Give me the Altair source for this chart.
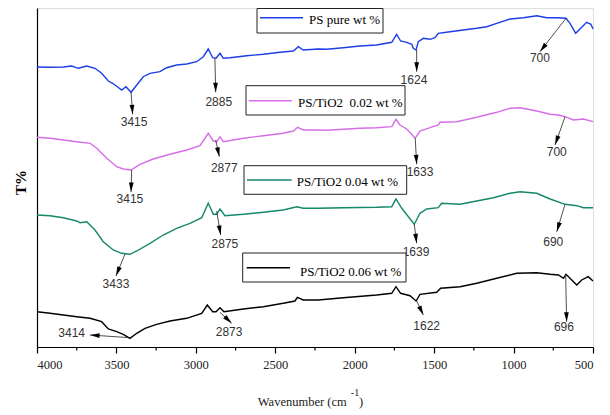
import math
import altair as alt
import pandas as pd

# ---------------- data ----------------
series_names = ["PS pure wt %", "PS/TiO2\u00a0 0.02 wt %", "PS/TiO2 0.04 wt %", "PS/TiO2 0.06 wt %"]
series_colors = ["#1c3ee6", "#d66ee8", "#15876a", "#000000"]

blue_wn = [4000, 3918, 3834, 3782, 3740, 3687, 3635, 3593, 3551, 3524, 3494, 3467, 3440, 3408, 3372,
           3331, 3289, 3226, 3184, 3121, 3058, 2995, 2953, 2922, 2894, 2873, 2848, 2827, 2785, 2680,
           2575, 2470, 2386, 2355, 2324, 2229, 2176, 2072, 1967, 1862, 1767, 1736, 1711, 1673, 1641,
           1631, 1614, 1600, 1568, 1526, 1495, 1474, 1400, 1316, 1232, 1169, 1106, 1022, 938, 854,
           791, 728, 670, 645, 609, 582, 540, 513, 500]
blue_t = [280, 279.7, 280, 281, 278.7, 281, 278.7, 273.7, 266, 263.7, 260.3, 257, 260.3, 254.7, 262,
          270.3, 273.7, 275.3, 279.3, 282, 283, 285.3, 290.3, 298, 289.3, 288.7, 293.7, 288.7, 289.3, 291.3,
          292.7, 294.7, 296, 300.3, 297, 298, 297.7, 299.3, 301, 302, 304.7, 312.7, 306, 304.7, 302.7,
          298.7, 297, 305.3, 308.7, 307.7, 309.3, 313.7, 315.3, 317, 318.7, 320.3, 323.7, 328, 329.3, 331.3,
          329.3, 329.3, 328.7, 323.7, 313.7, 318, 324.7, 322.7, 318]

pink_wn = [4000, 3918, 3834, 3750, 3666, 3624, 3561, 3498, 3457, 3408, 3352, 3268, 3163, 3058, 2974,
           2922, 2890, 2869, 2848, 2827, 2701, 2575, 2450, 2386, 2359, 2324, 2229, 2176, 2072, 1967,
           1862, 1767, 1740, 1715, 1673, 1641, 1620, 1589, 1526, 1474, 1463, 1358, 1232, 1106, 1022,
           959, 854, 770, 717, 676, 623, 560, 500]
pink_t = [209.7, 208.7, 207, 205.3, 203.7, 198.7, 188.7, 180.3, 178, 177, 182.7, 188, 192.7, 197, 201.3,
          213.7, 206, 205.3, 210.3, 205.3, 208.7, 211.3, 213.7, 216, 219.7, 217, 217, 216.7, 217.7, 218.7,
          219.3, 220.3, 227.7, 222, 218, 212.7, 208.7, 216, 219.3, 222, 224.7, 225.3, 229.7, 234.7, 238.7,
          239.3, 236, 232.7, 232, 230.3, 227, 228, 225.3]

green_wn = [4000, 3918, 3834, 3750, 3729, 3687, 3635, 3583, 3520, 3467, 3415, 3372, 3289, 3205, 3121,
            3037, 2963, 2922, 2890, 2869, 2848, 2817, 2701, 2575, 2450, 2365, 2324, 2229, 2072, 1862,
            1767, 1740, 1704, 1662, 1625, 1589, 1547, 1474, 1453, 1337, 1232, 1127, 1022, 959, 854,
            770, 676, 602, 560, 500]
green_t = [132, 131.3, 129.3, 126, 124.3, 125.3, 117, 105.3, 97, 93.7, 92.7, 96, 103.7, 112, 118.7,
           123.7, 129.3, 143.7, 132.7, 132.7, 138, 131.3, 132.7, 134.7, 137, 140.3, 138.7, 138.7, 139.3, 139.7,
           140.3, 148, 138.7, 130.3, 122.7, 133.7, 138, 139.3, 143.7, 142.7, 146, 149.3, 153.7, 155.3, 153.7,
           148, 142.7, 141.3, 139.3, 139.3]

black_wn = [4000, 3918, 3834, 3750, 3666, 3593, 3551, 3498, 3457, 3415, 3372, 3320, 3247, 3163, 3058,
            2963, 2928, 2894, 2873, 2848, 2823, 2701, 2575, 2450, 2376, 2361, 2324, 2229, 2072, 1862,
            1767, 1740, 1711, 1652, 1614, 1589, 1484, 1459, 1337, 1232, 1106, 980, 854, 770, 717,
            686, 670, 634, 602, 571, 530, 500]
black_t = [35.3, 33.7, 32, 30.3, 28.7, 25.3, 18, 15.3, 12.7, 8.7, 13.7, 18.7, 22.7, 26, 28.7,
           33.7, 42, 35.3, 35.3, 39.3, 35.3, 38, 40.3, 43.7, 46, 49.7, 47, 47, 49.3, 52,
           53.7, 60.3, 53.7, 51.3, 46, 52.7, 54.7, 58.7, 60.3, 63.7, 68.7, 73.7, 74.3, 72.7, 72,
           68.7, 72.7, 67, 62, 67, 70.3, 66]

# peak annotations (in data units: wavenumber / arbitrary T)
ann_labels = ["3415", "2885", "1624", "700", "3415", "2877", "1633", "700",
              "3433", "2875", "1639", "690", "3414", "2873", "1622", "696"]
ann_from_wn = [3408, 2880, 1610, 670, 3404, 2875, 1619, 676, 3446, 2869, 1625, 676, 3415, 2848, 1610, 672]
ann_from_t = [254.7, 288.7, 297, 328.7, 177, 207, 208.7, 230.3, 93, 136, 122.7, 142.7, 9.3, 34.7, 46, 72]
ann_tip_wn = [3398, 2875, 1610, 834, 3408, 2852, 1610, 739, 3503, 2844, 1610, 728, 3666, 2774, 1568, 666]
ann_tip_t = [232.7, 254.7, 275.3, 295.3, 155, 190.3, 182.7, 202, 71, 112, 103.7, 115.3, 12, 23.7, 32, 25.3]
ann_lab_wn = [3389, 2856, 1627, 834, 3415, 2821, 1589, 728, 3503, 2817, 1614, 750, 3782, 2791, 1547, 683]
ann_lab_t = [225, 245.3, 266.7, 288.7, 148, 179.3, 175.3, 194.7, 62.7, 103, 95.3, 105.3, 13.7, 14.7, 21.3, 20.3]

x_ticks = [4000, 3500, 3000, 2500, 2000, 1500, 1000, 500]
x_minor = [3750, 3250, 2750, 2250, 1750, 1250, 750]

# ---------------- layout ----------------
W, H = 556, 339
X_DOM = [500, 4000]
Y_DOM = [0, 339]
SERIF = "Liberation Serif"
NARROW = "Liberation Sans Narrow, Arial Narrow, Liberation Sans, sans-serif"

rows = []
for name, wn, tt in zip(series_names, [blue_wn, pink_wn, green_wn, black_wn],
                        [blue_t, pink_t, green_t, black_t]):
    assert len(wn) == len(tt)
    for a, b in zip(wn, tt):
        rows.append({"series": name, "wn": a, "t": b})
spec = pd.DataFrame(rows)

xs = alt.Scale(domain=X_DOM, reverse=True, nice=False, zero=False)
ys = alt.Scale(domain=Y_DOM, nice=False, zero=False)

x_axis = alt.Axis(values=x_ticks, format="d", title=None, grid=False, tickSize=6,
                  tickColor="black", tickWidth=1.2, domainColor="black", domainWidth=1.2,
                  labelFont=SERIF, labelFontSize=12.5, labelColor="#222", labelPadding=5)
y_axis = alt.Axis(title="T%", labels=False, ticks=False, grid=False, domainColor="black",
                  domainWidth=1.2, titleFont=SERIF, titleFontSize=15, titleFontWeight="bold",
                  titleX=-17, titleY=174, titleAngle=270, titleAlign="center",
                  titleBaseline="middle", titleColor="black")

lines = alt.Chart(spec).mark_line(strokeWidth=1.4).encode(
    x=alt.X("wn:Q", scale=xs, axis=x_axis),
    y=alt.Y("t:Q", scale=ys, axis=y_axis),
    color=alt.Color("series:N", scale=alt.Scale(domain=series_names, range=series_colors), legend=None),
    order=alt.Order("wn:Q", sort="descending"),
)

# annotations
kx = W / (X_DOM[1] - X_DOM[0])
ky = H / (Y_DOM[1] - Y_DOM[0])
angs = []
for a0, b0, a1, b1 in zip(ann_from_wn, ann_from_t, ann_tip_wn, ann_tip_t):
    dx = -(a1 - a0) * kx
    dy = -(b1 - b0) * ky
    angs.append(math.degrees(math.atan2(-dx, dy)) % 360)
ann = pd.DataFrame({"label": ann_labels, "x0": ann_from_wn, "y0": ann_from_t,
                    "x1": ann_tip_wn, "y1": ann_tip_t, "xl": ann_lab_wn, "yl": ann_lab_t,
                    "ang": angs})

arrow_lines = alt.Chart(ann).mark_rule(color="#222", strokeWidth=0.8).encode(
    x=alt.X("x0:Q", scale=xs), y=alt.Y("y0:Q", scale=ys),
    x2="x1:Q", y2="y1:Q")
arrow_heads = alt.Chart(ann).mark_point(
    shape="M0,0L-0.25,-1L0.25,-1Z", filled=True, color="black", opacity=1, size=361,
    strokeWidth=0).encode(
    x=alt.X("x1:Q", scale=xs), y=alt.Y("y1:Q", scale=ys),
    angle=alt.Angle("ang:Q", scale=None))
arrow_text = alt.Chart(ann).mark_text(font=NARROW, fontSize=12, color="#333",
                                      baseline="middle", align="center").encode(
    x=alt.X("xl:Q", scale=xs), y=alt.Y("yl:Q", scale=ys), text="label:N")

# minor ticks on the x axis
minor = alt.Chart(pd.DataFrame({"m": x_minor})).mark_rule(color="black", strokeWidth=1.2).encode(
    x=alt.X("m:Q", scale=xs), y=alt.value(H), y2=alt.value(H + 3.5))

# legend boxes (one per series)
box_layout = [  # x0, x1, y0, y1, line x0, line x1, line y, text x, text y
    (220, 346, 0.5, 25, 223, 266, 9.7, 272, 12),
    (209, 368, 77.7, 107, 211.7, 254.7, 92.7, 261, 95),
    (207, 369.7, 157.7, 186.3, 210, 254.7, 172, 259.7, 173.7),
    (205.7, 369, 245, 274, 209.7, 253, 259.7, 263, 263.7),
]
legend_layers = []
for name, col, (bx0, bx1, by0, by1, lx0, lx1, ly, tx, ty) in zip(series_names, series_colors, box_layout):
    d = pd.DataFrame({"name": [name]})
    legend_layers.append(alt.Chart(d).mark_rect(fill="white", stroke="#222", strokeWidth=1).encode(
        x=alt.value(bx0), x2=alt.value(bx1), y=alt.value(by0), y2=alt.value(by1)))
    legend_layers.append(alt.Chart(d).mark_rule(color=col, strokeWidth=1.5).encode(
        x=alt.value(lx0), x2=alt.value(lx1), y=alt.value(ly)))
    legend_layers.append(alt.Chart(d).mark_text(font=SERIF, fontSize=13, color="black",
                                                align="left", baseline="middle").encode(
        x=alt.value(tx), y=alt.value(ty), text="name:N"))

# x-axis title with superscript
title_df = pd.DataFrame({"a": ["Wavenumber (cm"], "b": ["-1"], "c": [")"]})
xt1 = alt.Chart(title_df).mark_text(font=SERIF, fontSize=12.5, color="#222", align="right",
                                    baseline="middle").encode(
    x=alt.value(309.7), y=alt.value(394), text="a:N")
xt2 = alt.Chart(title_df).mark_text(font=SERIF, fontSize=10, color="#222", align="center",
                                    baseline="middle").encode(
    x=alt.value(318), y=alt.value(385), text="b:N")
xt3 = alt.Chart(title_df).mark_text(font=SERIF, fontSize=12.5, color="#222", align="left",
                                    baseline="middle").encode(
    x=alt.value(322), y=alt.value(394), text="c:N")

chart = alt.layer(lines, minor, arrow_lines, arrow_heads, arrow_text, *legend_layers,
                  xt1, xt2, xt3).properties(
    width=W, height=H,
    autosize=alt.AutoSizeParams(type="none"),
    padding={"left": 29, "top": 0, "right": 9, "bottom": 64},
).configure_view(stroke="black", strokeWidth=1.2).configure(font=SERIF, background="white")

chart.save("out.html", embed_options={"renderer": "svg", "actions": False})
